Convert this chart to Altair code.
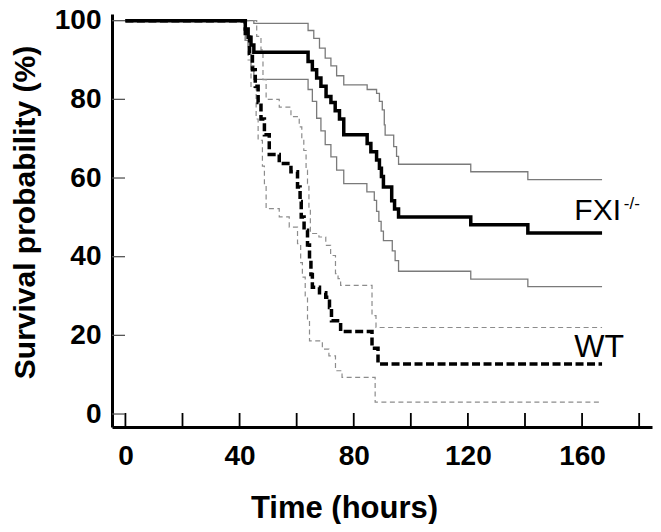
import altair as alt
import pandas as pd

# ---- data ----
fxi_t = [0, 42, 43, 44, 45, 64, 65.5, 67, 68.5, 70.3, 72, 73.5, 75, 76.5, 84.7, 86, 88, 89, 89.7, 90.4, 93.3, 94.3, 95.7, 121, 141, 167]
fxi_v = [100, 97.9, 95.8, 93.8, 92.0, 89.6, 87.5, 85.4, 83.3, 80.7, 79.2, 77.1, 75, 71.0, 68.8, 66.7, 64.6, 62.5, 60.4, 57.7, 54.2, 52.1, 50.1, 48.1, 46.0, 46.0]

fxi_hi_t = [0, 45, 64, 66, 68, 70, 72, 74, 76.5, 84.7, 88, 89, 90, 90.7, 91, 94, 95, 95.7, 121, 141, 167]
fxi_hi_v = [100, 99.3, 97.5, 95.5, 93, 90.5, 88.5, 86, 83.7, 82.5, 81.5, 79.5, 77.3, 73.5, 70.9, 68, 65.5, 63.5, 61.6, 59.6, 59.6]

fxi_lo_t = [0, 42, 43, 44, 45, 64, 65.5, 67, 68.5, 70, 72, 74, 76.5, 84.6, 87.2, 88, 88.8, 89.6, 90.4, 93.5, 94.5, 95.7, 121, 141, 167]
fxi_lo_v = [100, 95, 91.5, 88.5, 85.1, 82.5, 79.5, 75.2, 72, 68.5, 65.4, 62, 58.6, 56.5, 54.3, 51.5, 49, 46.5, 44.1, 41.5, 39, 36.3, 34.3, 32.4, 32.4]

wt_t = [0, 42, 43.5, 44.5, 45.5, 46.5, 47.5, 48.7, 50.4, 53.9, 58, 60.3, 61.2, 61.6, 62.6, 63.8, 64.5, 65, 65.5, 68, 70.2, 71.5, 72.2, 75.4, 86.4, 88.5, 167]
wt_v = [100, 95.8, 91.7, 87.5, 83.3, 79.2, 75, 71.0, 66.0, 63.7, 61.6, 57.7, 54, 50.1, 46.7, 43, 39, 35.5, 32.2, 30.8, 29.7, 27.1, 23.7, 21.0, 16.7, 12.7, 12.7]

wt_hi_t = [0, 46, 47.5, 48.2, 49.3, 53.9, 58, 60.9, 61.8, 62.5, 63.3, 63.8, 64.3, 64.8, 67.8, 70.2, 71.9, 73.6, 74.5, 75.4, 86.4, 87.8, 167]
wt_hi_v = [100, 96, 92.6, 85, 80, 78, 75.6, 73, 70, 67, 62, 58.6, 52, 45.9, 45, 42.9, 40.3, 35.7, 34.4, 32.7, 25, 22, 22]

wt_lo_t = [0, 42, 43, 44, 45.8, 46.5, 48, 48.7, 49.3, 53.9, 57.4, 60.3, 61.4, 62, 63, 63.8, 64.5, 69, 71.3, 73.6, 75.9, 87.5, 167]
wt_lo_v = [100, 95, 90, 83, 75, 69.6, 63, 58.6, 52.2, 50.1, 47.5, 43.3, 38.5, 34.8, 30, 24, 18.6, 16.5, 14.8, 11, 9.3, 3.0, 3.0]

x_label_values = [0, 40, 80, 120, 160]
x_tick_values = [0, 20, 40, 60, 80, 100, 120, 140, 160, 180]
y_tick_values = [0, 20, 40, 60, 80, 100]

label_texts = ["FXI", "-/-", "WT"]
label_t = [157.3, 174.6, 157.3]
label_v = [49.4, 52.0, 14.6]
label_sizes = [30, 17, 32]

FONT = "Liberation Sans"
W, H = 540, 413

xscale = alt.Scale(domain=[-4.7, 184.5], nice=False, zero=False)
yscale = alt.Scale(domain=[-3.3, 101.7], nice=False, zero=False)

x_axis = alt.Axis(values=x_label_values, ticks=False, grid=False, domainColor="black",
                  domainWidth=3, labelFont=FONT, labelFontWeight="bold", labelFontSize=28,
                  labelColor="black", labelPadding=15, labelFlush=False,
                  title="Time (hours)", titleFont=FONT, titleFontSize=31, titleFontWeight="bold",
                  titleColor="black", titleX=232, titleY=90, titleAlign="center",
                  titleBaseline="alphabetic")
y_axis = alt.Axis(values=y_tick_values, ticks=False, grid=False, domainColor="black",
                  domainWidth=3, labelFont=FONT, labelFontWeight="bold", labelFontSize=28,
                  labelColor="black", labelPadding=11, labelFlush=False,
                  title="Survival probability (%)", titleFont=FONT, titleFontSize=30,
                  titleFontWeight="bold", titleColor="black", titleX=-87, titleY=198,
                  titleAngle=270, titleAlign="center", titleBaseline="middle")

X = alt.X("t:Q", scale=xscale, axis=x_axis)
Y = alt.Y("v:Q", scale=yscale, axis=y_axis)


def curve(ts, vs, color, width, dash=None):
    df = pd.DataFrame({"t": ts, "v": vs})
    kw = dict(interpolate="step-after", color=color, strokeWidth=width)
    if dash:
        kw["strokeDash"] = dash
    return alt.Chart(df).mark_line(**kw).encode(x=X, y=Y)


layers = [
    curve(fxi_hi_t, fxi_hi_v, "#7a7a7a", 1.3),
    curve(fxi_lo_t, fxi_lo_v, "#7a7a7a", 1.3),
    curve(wt_hi_t, wt_hi_v, "#8c8c8c", 1.2, [5, 3.5]),
    curve(wt_lo_t, wt_lo_v, "#8c8c8c", 1.2, [5, 3.5]),
    curve(wt_t, wt_v, "black", 3.5, [8, 3.5]),
    curve(fxi_t, fxi_v, "black", 3.5),
]

xticks = alt.Chart(pd.DataFrame({"t": x_tick_values})).mark_rule(
    color="black", strokeWidth=1.8).encode(x=X, y=alt.value(H), y2=alt.value(H - 14))
yticks = alt.Chart(pd.DataFrame({"v": y_tick_values})).mark_rule(
    color="#555555", strokeWidth=1.3).encode(y=Y, x=alt.value(0), x2=alt.value(13))

lab_df = pd.DataFrame({"t": label_t, "v": label_v, "txt": label_texts, "s": label_sizes})
labels = alt.Chart(lab_df).mark_text(align="left", baseline="alphabetic", font=FONT,
                                     color="black").encode(
    x=X, y=Y, text="txt:N",
    size=alt.Size("s:Q", scale=None, legend=None))

chart = alt.layer(*layers, xticks, yticks, labels).properties(
    width=W, height=H,
    autosize=alt.AutoSizeParams(type="none"),
    padding={"left": 104, "top": 6, "right": 1, "bottom": 97},
    background="white",
).configure_view(stroke=None)

chart.save("out.html", embed_options={"renderer": "svg", "actions": False})
